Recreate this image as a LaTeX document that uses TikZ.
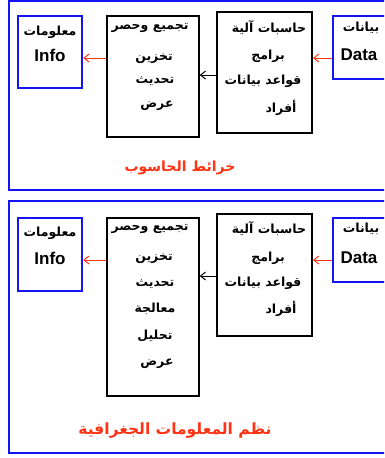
\documentclass[tikz,border=0pt]{standalone}
\usepackage{fontspec}
\setmainfont{Liberation Sans}
\newfontfamily\arabicfont[Script=Arabic]{DejaVu Sans}
\TeXXeTstate=1
\usepackage{tikz}
\usetikzlibrary{arrows.meta}
\definecolor{fblue}{RGB}{20,20,245}
\definecolor{ored}{RGB}{255,50,20}
\newcommand{\artxt}[1]{\arabicfont\bfseries\beginR #1\endR}
\tikzset{bl/.style={draw=fblue,line width=2.5pt,inner sep=0pt}}
\tikzset{bk/.style={draw=black,line width=1.5pt,inner sep=0pt}}
\tikzset{t/.style={font=\fontsize{12.5}{12.5}\selectfont,inner sep=0pt}}
\tikzset{en/.style={font=\fontsize{17}{17}\selectfont\bfseries,inner sep=0pt}}
\tikzset{ttl/.style={text=ored,inner sep=0pt}}
\tikzset{ra/.style={draw=ored,line width=1pt,-{Straight Barb[length=5pt,width=8pt]}}}
\tikzset{ka/.style={draw=black,line width=1pt,-{Straight Barb[length=5pt,width=8pt]}}}

\begin{document}
\begin{tikzpicture}[x=1pt,y=-1pt]
        \useasboundingbox (0,0) rectangle (384,458);
        \clip (0,0) rectangle (384,458);
        % top panel
        \draw [fblue, line width=1.5pt] (9,0.8) rectangle (400,190);
        \node [bl, minimum width=64pt, minimum height=72pt] (info1) at (50,52) {};
        \node [bk, minimum width=92pt, minimum height=121pt] (proc1) at (153,76.5) {};
        \node [bk, line width=2pt, minimum width=95pt, minimum height=121pt] (comp1) at (264.5,72.5) {};
        \node [bl, minimum width=64pt, minimum height=63pt] (data1) at (365,47.5) {};
        \node [t] (info1a) at (50,32) {\artxt{معلومات}};
        \node [en] (info1b) at (50,55) {Info};
        \node [t] (proc1a) at (150,28) {\artxt{تجميع وحصر}};
        \node [t] (proc1b) at (154,59) {\artxt{تخزين}};
        \node [t] (proc1c) at (155,81) {\artxt{تحديث}};
        \node [t] (proc1d) at (157,106) {\artxt{عرض}};
        \node [t] (comp1a) at (269,28) {\artxt{حاسبات آلية}};
        \node [t] (comp1b) at (268,56) {\artxt{برامج}};
        \node [t] (comp1c) at (263,81) {\artxt{قواعد بيانات}};
        \node [t] (comp1d) at (281,108) {\artxt{أفراد}};
        \node [t] (data1a) at (361,28) {\artxt{بيانات}};
        \node [en] (data1b) at (359,55) {Data};
        \draw [ra] (data1.west |- 0,58) -- (comp1.east |- 0,58);
        \draw [ka] (comp1.west |- 0,75) -- (proc1.east |- 0,75);
        \draw [ra] (proc1.west |- 0,58) -- (info1.east |- 0,58);
        \node [ttl, font=\fontsize{14}{14}\selectfont] (title1) at (180,168) {\artxt{خرائط الحاسوب}};
        % bottom panel
        \draw [fblue, line width=1.5pt] (9,201) rectangle (400,453);
        \node [bl, minimum width=64pt, minimum height=73pt] (info2) at (50,254.5) {};
        \node [bk, minimum width=92pt, minimum height=178pt] (proc2) at (153,307) {};
        \node [bk, line width=2pt, minimum width=95pt, minimum height=122pt] (comp2) at (264.5,275) {};
        \node [bl, minimum width=64pt, minimum height=64pt] (data2) at (365,250) {};
        \node [t] (info2a) at (50,233) {\artxt{معلومات}};
        \node [en] (info2b) at (50,258) {Info};
        \node [t] (proc2a) at (150,229) {\artxt{تجميع وحصر}};
        \node [t] (proc2b) at (154,259) {\artxt{تخزين}};
        \node [t] (proc2c) at (155,284) {\artxt{تحديث}};
        \node [t] (proc2d) at (155,309) {\artxt{معالجة}};
        \node [t] (proc2e) at (155,336) {\artxt{تحليل}};
        \node [t] (proc2f) at (157,364) {\artxt{عرض}};
        \node [t] (comp2a) at (269,229) {\artxt{حاسبات آلية}};
        \node [t] (comp2b) at (268,258) {\artxt{برامج}};
        \node [t] (comp2c) at (263,283) {\artxt{قواعد بيانات}};
        \node [t] (comp2d) at (281,309) {\artxt{أفراد}};
        \node [t] (data2a) at (361,229) {\artxt{بيانات}};
        \node [en] (data2b) at (359,258) {Data};
        \draw [ra] (data2.west |- 0,260) -- (comp2.east |- 0,260);
        \draw [ka] (comp2.west |- 0,276) -- (proc2.east |- 0,276);
        \draw [ra] (proc2.west |- 0,260) -- (info2.east |- 0,260);
        \node [ttl, font=\fontsize{15.5}{15.5}\selectfont] (title2) at (175,430) {\artxt{نظم المعلومات الجغرافية}};
\end{tikzpicture}
\end{document}
